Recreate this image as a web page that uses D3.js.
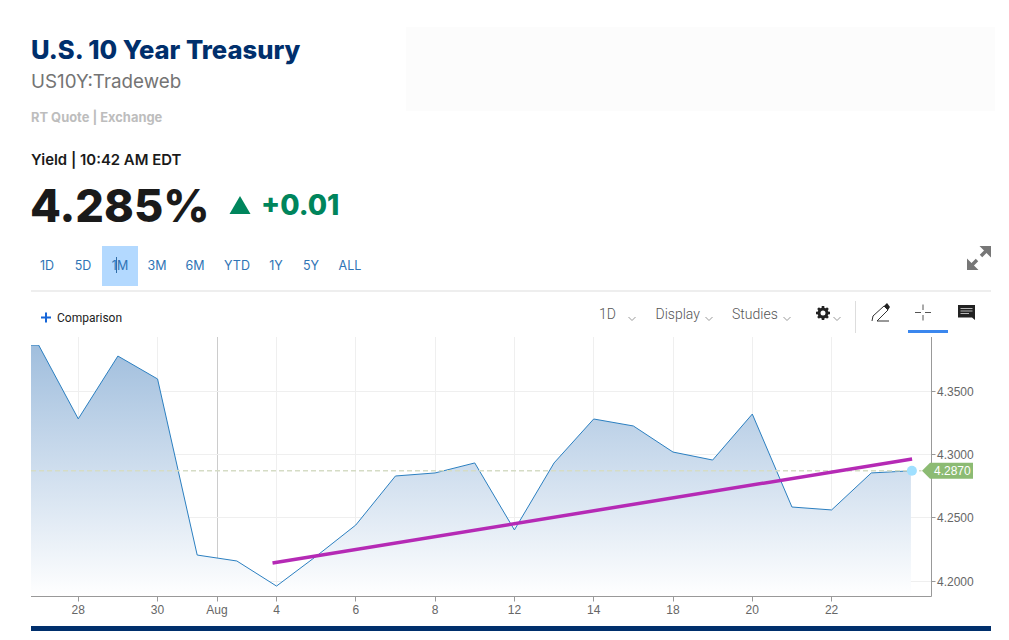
<!DOCTYPE html>
<html lang="en">
<head>
<title>U.S. 10 Year Treasury</title>
<meta charset="utf-8">
<script src="https://cdn.jsdelivr.net/npm/d3@7"></script>
<style>
  html, body { margin: 0; padding: 0; background: #fff; overflow: hidden; }
  text { font-family: Inter, Lato, sans-serif; }
  .ax text { font-family: "Liberation Sans", Arial, sans-serif; font-size: 12px; fill: #666; }
  .tool { font-family: Roboto, sans-serif; font-weight: 300; font-size: 14px; fill: #555; }
  .range { font-family: Inter, sans-serif; font-size: 12.5px; fill: #2f74b5; text-anchor: middle; }
</style>
</head>
<body>
<svg id="page" width="1009" height="640"></svg>
<script>
// daily closes, session by session (first one is off the left edge)
var sessions = ["Jul 24","Jul 25","Jul 28","Jul 29","Jul 30","Jul 31","Aug 1","Aug 4","Aug 5","Aug 6","Aug 7","Aug 8","Aug 11","Aug 12","Aug 13","Aug 14","Aug 15","Aug 18","Aug 19","Aug 20","Aug 21","Aug 22","Aug 25","Aug 26"];
var yields = [4.3863,4.3863,4.328,4.3776,4.3595,4.2205,4.2158,4.196,4.2195,4.2442,4.2829,4.2853,4.2932,4.2403,4.2932,4.3279,4.3224,4.3018,4.2955,4.3318,4.2584,4.2561,4.2853,4.287];

var xTickSessions = ["Jul 28","Jul 30","Aug","Aug 4","Aug 6","Aug 8","Aug 12","Aug 14","Aug 18","Aug 20","Aug 22"];
var xTickLabels = ["28","30","Aug","4","6","8","12","14","18","20","22"];
var yTicks = [4.2, 4.25, 4.3, 4.35];

// hand drawn trend line, start and end
var trendSessions = [6.9, 23.03];
var trendValues = [4.2142, 4.2963];

var lastYield = 4.287;
var ranges = ["1D","5D","1M","3M","6M","YTD","1Y","5Y","ALL"];
var rangeCentres = [47,83,120,157,195,237,276,311,350];

var svg = d3.select("#page");

var plot = {left: 31, right: 931.5, top: 337, bottom: 596.5};

var x = d3.scaleLinear().domain([1, 2]).range([38.6, 78.25]);
var y = d3.scaleLinear().domain([4.2, 4.35]).range([581, 391]);

function sessionPos(name) {
  if (name == "Aug") return x(5.5);
  return x(sessions.indexOf(name));
}
// snap hairlines to the pixel grid
function crisp(v) { return Math.floor(v) + 0.5; }

/* header */
svg.append("rect").attr("x", 406).attr("y", 27).attr("width", 589).attr("height", 84).attr("fill", "#fcfcfc");
svg.append("text").attr("x", 31).attr("y", 59).attr("font-size", 25.6).attr("font-weight", 800).attr("fill", "#002f6c").text("U.S. 10 Year Treasury");
svg.append("text").attr("x", 31).attr("y", 88).attr("font-size", 18.8).attr("font-weight", 400).attr("fill", "#747474").text("US10Y:Tradeweb");
svg.append("text").attr("x", 31).attr("y", 122).attr("font-size", 12.9).attr("font-weight", 700).attr("fill", "#bdbdbd").text("RT Quote | Exchange");
svg.append("text").attr("x", 31).attr("y", 165).attr("font-size", 14.9).attr("font-weight", 600).attr("fill", "#1a1a1a").text("Yield | 10:42 AM EDT");
svg.append("text").attr("x", 30).attr("y", 222).attr("font-size", 45).attr("font-weight", 800).attr("fill", "#1a1a1a").text("4.285%");
svg.append("path").attr("d", "M229.5,214 L240,196 L250.5,214 Z").attr("fill", "#00855c");
svg.append("text").attr("x", 261).attr("y", 215).attr("font-size", 28).attr("font-weight", 800).attr("fill", "#00855c").text("+0.01");

/* range buttons */
svg.append("rect").attr("x", 102).attr("y", 246).attr("width", 36).attr("height", 40).attr("fill", "#b3d9ff");
svg.selectAll(".range").data(ranges).enter().append("text")
  .attr("class", "range")
  .attr("x", function(d, i) { return rangeCentres[i]; })
  .attr("y", 270)
  .text(function(d) { return d; });
svg.append("line").attr("x1", 116.5).attr("x2", 116.5).attr("y1", 257).attr("y2", 273).attr("stroke", "#2f6da8");

// expand arrows
svg.append("path").attr("fill", "#777").attr("d", "M967,270 V258.5 L978.5,270 Z M991,246 V257.5 L979.5,246 Z");
svg.append("path").attr("stroke", "#777").attr("stroke-width", 3.5).attr("fill", "none").attr("d", "M971,266 L977,260 M981,256 L987,250");
svg.append("line").attr("x1", 31).attr("x2", 991).attr("y1", 291).attr("y2", 291).attr("stroke", "#ddd");

/* toolbar */
svg.append("path").attr("d", "M41,317.5 H51 M46,312.5 V322.5").attr("stroke", "#1565d8").attr("stroke-width", 2).attr("fill", "none");
svg.append("text").attr("x", 57).attr("y", 322).attr("style", "font-family:Roboto,sans-serif;font-size:12px").attr("fill", "#222").text("Comparison");
var toolbar = [["1D", 599, 632], ["Display", 655.5, 709], ["Studies", 732, 787]];
toolbar.forEach(function(t) {
  svg.append("text").attr("class", "tool").attr("x", t[1]).attr("y", 319).text(t[0]);
  chevron(t[2], 317);
});
chevron(837, 317);
function chevron(cx, cy) {
  svg.append("path").attr("d", "M" + (cx - 3.5) + "," + cy + " l3.5,3.5 l3.5,-3.5").attr("fill", "none").attr("stroke", "#999");
}
// gear
svg.append("circle").attr("cx", 823).attr("cy", 313).attr("r", 4).attr("fill", "none").attr("stroke", "#222").attr("stroke-width", 3);
d3.range(8).forEach(function(i) {
  svg.append("rect").attr("x", 821.7).attr("y", 306).attr("width", 2.6).attr("height", 3).attr("fill", "#222")
    .attr("transform", "rotate(" + (i * 45) + " 823 313)");
});
svg.append("line").attr("x1", 855.5).attr("x2", 855.5).attr("y1", 301).attr("y2", 333).attr("stroke", "#ddd");
// pencil
svg.append("path").attr("d", "M872,321 L873,316 L884,306 L888,310 L877,321 H889").attr("fill", "none").attr("stroke", "#333");
svg.append("path").attr("d", "M884,306 L887,303 L890,307 L888,310 Z").attr("fill", "#222");
// crosshair
svg.append("path").attr("d", "M915,312.5 H921 M925,312.5 H931 M923,304.5 V310 M923,315 V320.5").attr("fill", "none").attr("stroke", "#555");
svg.append("rect").attr("x", 908).attr("y", 330).attr("width", 40).attr("height", 3).attr("fill", "#3b87ee");
// comment box
svg.append("path").attr("d", "M958,305 H975 V320 L972,317.5 H958 Z").attr("fill", "#222");
svg.append("path").attr("d", "M960.5,308.5 H972.5 M960.5,311 H972.5 M960.5,313.5 H969").attr("stroke", "#ddd").attr("stroke-width", 0.8);

/* chart */
var defs = svg.append("defs");
defs.append("clipPath").attr("id", "plotclip").append("rect")
  .attr("x", plot.left).attr("y", plot.top + 8).attr("width", plot.right - plot.left).attr("height", plot.bottom - plot.top - 8);
var grad = defs.append("linearGradient").attr("id", "fade")
  .attr("gradientUnits", "userSpaceOnUse").attr("x1", 0).attr("x2", 0).attr("y1", y(4.3863)).attr("y2", plot.bottom);
grad.append("stop").attr("offset", 0).attr("stop-color", "#a0bedd");
grad.append("stop").attr("offset", 0.5).attr("stop-color", "#cfdeee");
grad.append("stop").attr("offset", 1).attr("stop-color", "#ffffff");

var grid = svg.append("g");
grid.selectAll("line.v").data(xTickSessions).enter().append("line")
  .attr("x1", function(d) { return crisp(sessionPos(d)); })
  .attr("x2", function(d) { return crisp(sessionPos(d)); })
  .attr("y1", plot.top).attr("y2", plot.bottom)
  .attr("stroke", function(d) { return d == "Aug" ? "#ccc" : "#efefef"; });
grid.selectAll("line.h").data(yTicks).enter().append("line")
  .attr("x1", plot.left).attr("x2", plot.right)
  .attr("y1", function(d) { return crisp(y(d)); })
  .attr("y2", function(d) { return crisp(y(d)); })
  .attr("stroke", "#efefef");

var idx = d3.range(sessions.length);
var area = d3.area().x(function(i) { return x(i); }).y0(plot.bottom).y1(function(i) { return y(yields[i]); });
var line = d3.line().x(function(i) { return x(i); }).y(function(i) { return y(yields[i]); });

var clipped = svg.append("g").attr("clip-path", "url(#plotclip)");
clipped.append("path").datum(idx).attr("d", area).attr("fill", "url(#fade)");
clipped.append("path").datum(idx).attr("d", line).attr("fill", "none").attr("stroke", "#2b7fc0").attr("stroke-width", 1);

// current value dashes
svg.append("line").attr("x1", plot.left).attr("x2", plot.right - 10)
  .attr("y1", y(lastYield)).attr("y2", y(lastYield))
  .attr("stroke", "#d5dcc5").attr("stroke-width", 1.5).attr("stroke-dasharray", "5,3");

// trend line
svg.append("line")
  .attr("x1", x(trendSessions[0])).attr("y1", y(trendValues[0]))
  .attr("x2", x(trendSessions[1])).attr("y2", y(trendValues[1]))
  .attr("stroke", "#b52ab5").attr("stroke-width", 3.5);

/* axes */
var xAxisG = svg.append("g").attr("class", "ax");
xAxisG.append("line").attr("x1", plot.left).attr("x2", plot.right).attr("y1", plot.bottom).attr("y2", plot.bottom).attr("stroke", "#999");
xAxisG.selectAll("line.t").data(xTickSessions).enter().append("line")
  .attr("x1", function(d) { return crisp(sessionPos(d)); })
  .attr("x2", function(d) { return crisp(sessionPos(d)); })
  .attr("y1", plot.bottom).attr("y2", plot.bottom + 5).attr("stroke", "#999");
xAxisG.selectAll("text").data(xTickSessions).enter().append("text")
  .attr("x", sessionPos).attr("y", 614).attr("text-anchor", "middle")
  .text(function(d, i) { return xTickLabels[i]; });

var yAxisG = svg.append("g").attr("class", "ax");
yAxisG.append("line").attr("x1", plot.right).attr("x2", plot.right).attr("y1", plot.top).attr("y2", plot.bottom).attr("stroke", "#999");
yAxisG.selectAll("line.t").data(yTicks).enter().append("line")
  .attr("x1", plot.right).attr("x2", plot.right + 4)
  .attr("y1", function(d) { return crisp(y(d)); })
  .attr("y2", function(d) { return crisp(y(d)); })
  .attr("stroke", "#999");
yAxisG.selectAll("text").data(yTicks).enter().append("text")
  .attr("x", 937).attr("y", function(d) { return y(d) + 4.5; })
  .text(function(d) { return d.toFixed(4); });

// last value marker and flag
svg.append("circle").attr("cx", x(sessions.length - 1) + 1).attr("cy", y(lastYield)).attr("r", 5).attr("fill", "#a0e0ff");
var ly = y(lastYield);
svg.append("path").attr("fill", "#8cbb73")
  .attr("d", "M922," + ly + " L930," + (ly - 8) + " H973 V" + (ly + 8) + " H930 Z");
svg.append("text").attr("x", 934).attr("y", ly + 4.5).attr("fill", "#fff")
  .attr("style", "font-family:'Liberation Sans',Arial,sans-serif;font-size:12px")
  .text(lastYield.toFixed(4));

/* bottom bar */
svg.append("rect").attr("x", 31).attr("y", 626).attr("width", 960).attr("height", 5).attr("fill", "#002f6c");
</script>
</body>
</html>
